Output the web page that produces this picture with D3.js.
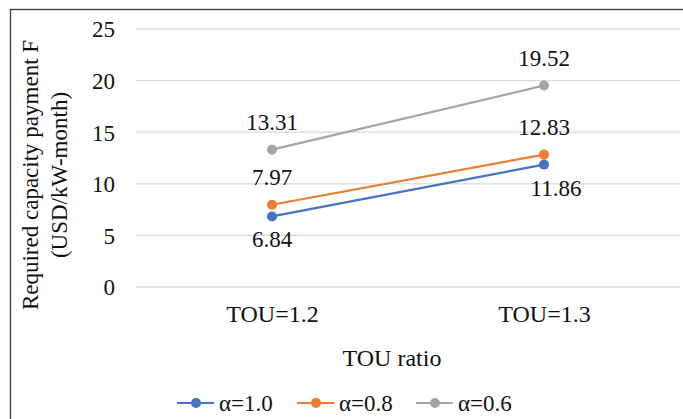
<!DOCTYPE html>
<html>
<head>
<meta charset="utf-8">
<script src="https://cdn.jsdelivr.net/npm/d3@7"></script>
</head>
<body>
<svg id="chart" width="683" height="419" style="position:absolute;left:0;top:0;background:#fff"></svg>
<script>
// Categories and series values
const categories = ["TOU=1.2", "TOU=1.3"];
const alpha10 = [6.84, 11.86];
const alpha08 = [7.97, 12.83];
const alpha06 = [13.31, 19.52];
const seriesNames = ["α=1.0", "α=0.8", "α=0.6"];
const yTicks = [0, 5, 10, 15, 20, 25];

const FONT = "Liberation Serif";
const INK = "#111";

const series = [
  { name: seriesNames[0], values: alpha10, color: "#4472C4", labelPos: ["below", "belowRight"] },
  { name: seriesNames[1], values: alpha08, color: "#ED7D31", labelPos: ["above", "above"] },
  { name: seriesNames[2], values: alpha06, color: "#A5A5A5", labelPos: ["above", "above"] }
];

const svg = d3.select("#chart");

function styleText(sel, size) {
  return sel.attr("font-family", FONT).attr("font-size", size).attr("fill", INK);
}

// outer frame (chart area border)
svg.append("rect")
  .attr("x", 10.5).attr("y", 9.5)
  .attr("width", 800).attr("height", 600)
  .attr("fill", "#fff")
  .attr("stroke", "#3a3a3a")
  .attr("stroke-width", 1.3);

const plot = { left: 136, right: 680, top: 29, bottom: 287 };

const x = d3.scalePoint().domain(categories).range([plot.left, plot.right]).padding(0.5);
const y = d3.scaleLinear().domain([0, 25]).range([plot.bottom, plot.top]);

// horizontal gridlines
svg.append("g")
  .selectAll("line")
  .data(yTicks)
  .join("line")
  .attr("x1", plot.left).attr("x2", plot.right)
  .attr("y1", d => y(d)).attr("y2", d => y(d))
  .attr("stroke", "#d9d9d9")
  .attr("stroke-width", 1.3);

// y axis tick labels
const yAxis = d3.axisLeft(y).tickValues(yTicks).tickSize(0).tickPadding(0).tickFormat(d3.format("d"));
const gy = svg.append("g").attr("transform", `translate(${plot.left - 21},0)`).call(yAxis);
gy.attr("font-family", FONT).attr("font-size", 23);
gy.select(".domain").remove();
styleText(gy.selectAll("text"), 23).attr("dy", "0.34em");

// x axis category labels
const xAxis = d3.axisBottom(x).tickSize(0).tickPadding(0);
const gx = svg.append("g").attr("transform", `translate(0,${plot.bottom})`).call(xAxis);
gx.attr("font-family", FONT).attr("font-size", 24);
gx.select(".domain").remove();
styleText(gx.selectAll("text"), 24).attr("y", 35).attr("dy", 0);

// axis titles
styleText(svg.append("text"), 24)
  .attr("x", 392).attr("y", 366)
  .attr("text-anchor", "middle")
  .text("TOU ratio");

const yTitle = styleText(svg.append("text"), 23)
  .attr("transform", "translate(0,175) rotate(-90)")
  .attr("text-anchor", "middle");
yTitle.append("tspan").attr("x", 0).attr("y", 38).text("Required capacity payment F");
yTitle.append("tspan").attr("x", 0).attr("y", 67).text("(USD/kW-month)");

// lines, markers and value labels
const line = d3.line().x((d, i) => x(categories[i])).y(d => y(d));

series.forEach(s => {
  const g = svg.append("g");
  g.append("path")
    .attr("d", line(s.values))
    .attr("fill", "none")
    .attr("stroke", s.color)
    .attr("stroke-width", 2.2);
  g.selectAll("circle")
    .data(s.values)
    .join("circle")
    .attr("cx", (d, i) => x(categories[i]))
    .attr("cy", d => y(d))
    .attr("r", 5)
    .attr("fill", s.color);
  styleText(g.selectAll("text").data(s.values).join("text"), 23)
    .attr("text-anchor", "middle")
    .attr("x", (d, i) => x(categories[i]) + (s.labelPos[i] === "belowRight" ? 12 : 0))
    .attr("y", (d, i) => y(d) + (s.labelPos[i] === "above" ? -20 : 31))
    .text(d => d3.format(".2f")(d));
});

// legend
const legend = svg.append("g").attr("transform", "translate(0,403)");
const legendX = [177, 297, 416];
series.forEach((s, i) => {
  const item = legend.append("g").attr("transform", `translate(${legendX[i]},0)`);
  item.append("line")
    .attr("x1", 0).attr("x2", 37).attr("y1", 0).attr("y2", 0)
    .attr("stroke", s.color).attr("stroke-width", 2.2);
  item.append("circle").attr("cx", 19).attr("cy", 0).attr("r", 5).attr("fill", s.color);
  styleText(item.append("text"), 23)
    .attr("x", 42).attr("y", 0).attr("dy", "0.35em")
    .text(s.name);
});
</script>
</body>
</html>
